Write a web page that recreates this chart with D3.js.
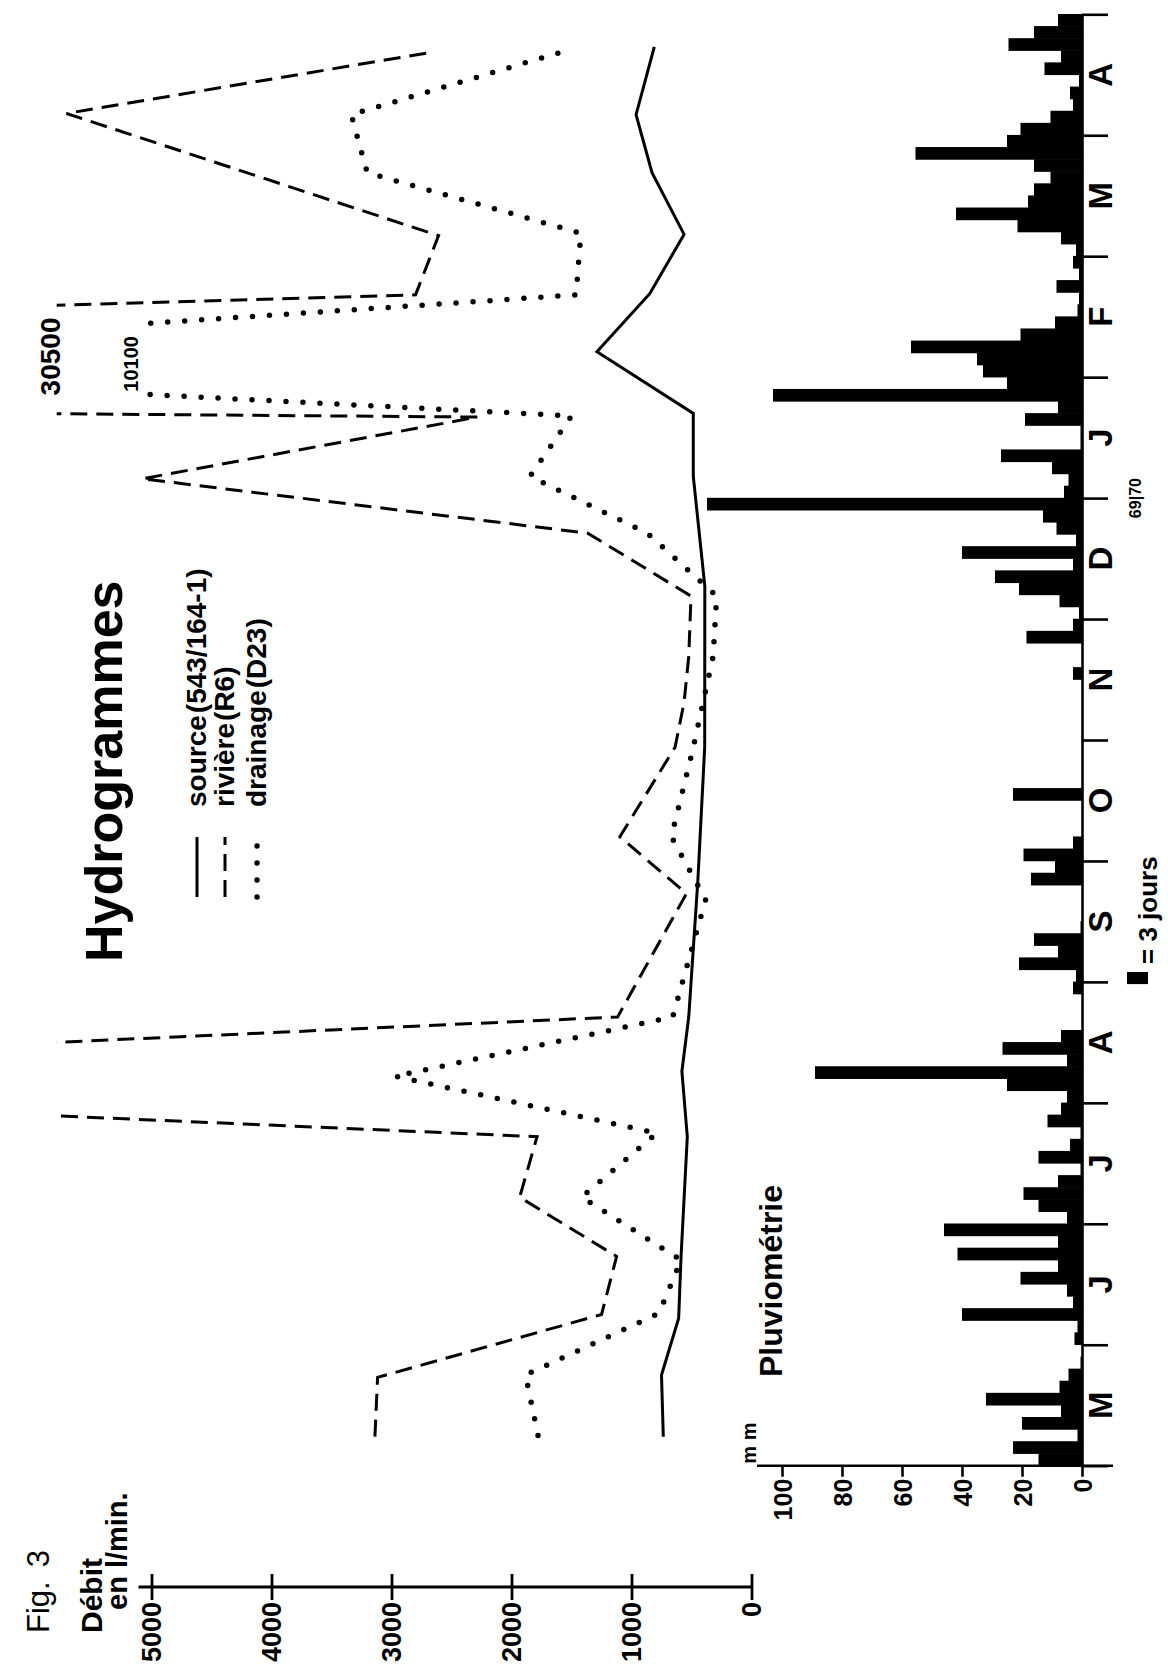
<!DOCTYPE html>
<html>
<head>
<meta charset="utf-8">
<script src="https://cdn.jsdelivr.net/npm/d3@7"></script>
<style>
  html, body { margin: 0; padding: 0; background: #fff; }
  svg { display: block; }
  text { font-family: "Liberation Sans", Arial, Helvetica, sans-serif; fill: #000; }
</style>
</head>
<body>
<svg id="fig" width="1168" height="1673"></svg>
<script>
// ---- Data -------------------------------------------------------------
// Time is counted in months from 1 May (0) to 30 April (12).
const mois = ["M", "J", "J", "A", "S", "O", "N", "D", "J", "F", "M", "A"];

// Rainfall in mm, one value per 3-day period (10 per month), May -> April
const pluie = [
  14.5, 23, 1.5, 20, 7, 32, 7.5, 4.5, 0.5, 0,        // mai
  2.5, 1.5, 40, 3, 5, 20.5, 8, 41.5, 8, 46,          // juin
  5, 14.5, 19.5, 8, 0.5, 14.5, 4, 0.5, 11.5, 7,      // juillet
  5, 25, 89, 5, 26.5, 7, 0, 0, 0, 3,                 // août
  2, 21, 8, 16, 0.5, 0, 0, 0, 17, 9,                 // septembre
  19.5, 3, 0, 0, 0, 23, 0, 0, 0, 0,                  // octobre
  0, 0, 0, 0, 0, 3, 0, 0, 18.5, 3,                   // novembre
  1, 7.5, 21, 29, 3, 40, 2, 8.5, 13, 125,            // décembre
  6, 4.5, 10, 27, 0.5, 0.5, 19, 8, 103, 25,          // janvier
  33, 35, 57, 20.5, 9, 1.5, 1, 8.5, 1, 3,            // février
  2, 7, 21.5, 42, 18, 16, 10.5, 16, 55.5, 25,        // mars
  20.5, 10.5, 3, 4, 1, 12.5, 7, 24.5, 16, 8          // avril
];

// Discharge (l/min): measurement times (months) and values
const sourceT = [0.24, 0.75, 1.22, 1.73, 2.72, 3.26, 3.71, 4.84, 5.94, 7.27, 8.18, 8.70, 9.21, 9.69, 10.18, 10.69, 11.17, 11.73];
const sourceQ = [735, 750, 607, 587, 535, 580, 523, 447, 390, 389, 485, 485, 1288, 848, 562, 829, 962, 810];

const riviereT = [0.24, 0.73, 1.25, 1.73, 2.22, 2.72, 3.19, 3.71, 4.73, 5.20, 5.94, 6.31, 6.69, 7.19, 7.71, 8.16, 8.67, 8.89, 9.68, 10.17, 11.18, 11.68];
const riviereQ = [3138, 3116, 1250, 1124, 1932, 1787, 12700, 1116, 542, 1097, 637, 562, 523, 504, 1365, 5077, 2283, 30500, 2800, 2608, 5708, 2704];

const drainageT = [0.25, 0.75, 1.26, 1.70, 2.22, 2.75, 3.22, 3.71, 4.68, 5.20, 5.93, 6.69, 7.19, 7.71, 8.18, 8.68, 9.11, 9.68, 10.19, 10.69, 11.17, 11.69];
const drainageQ = [1779, 1883, 771, 587, 1415, 789, 2971, 657, 382, 668, 487, 320, 290, 868, 1845, 1499, 10100, 1462, 1422, 3202, 3336, 1576];

const debitTicks = [0, 1000, 2000, 3000, 4000, 5000];
const pluieTicks = [0, 20, 40, 60, 80, 100];

// Off-scale peaks are cut at these discharges and annotated
const riviereCut = 5790, drainageCut = 5120;
const riviereMax = 30500, drainageMax = 10100;

// ---- Scales (figure drawn turned a quarter turn: time runs upward) ----
const svg = d3.select("#fig");
svg.append("rect").attr("width", 1168).attr("height", 1673).attr("fill", "#fff");

const tScale = d3.scaleLinear().domain([0, 12]).range([1465.7, 14.3]);
const qScale = d3.scaleLinear().domain([0, 5000]).range([751.5, 151.5]);
const pScale = d3.scaleLinear().domain([0, 100]).range([1082, 782]);

// Text turned to read from bottom to top; (x, y) is a point on the baseline
function vtext(parent, x, y, str, size, weight, anchor) {
  return parent.append("text")
    .attr("transform", `translate(${x},${y}) rotate(-90)`)
    .attr("text-anchor", anchor || "start")
    .attr("font-size", size)
    .attr("font-weight", weight || "bold")
    .text(str);
}

// ---- Rainfall histogram ----------------------------------------------
const gRain = svg.append("g");
gRain.selectAll("rect").data(pluie).join("rect")
  .attr("x", d => pScale(d))
  .attr("width", d => pScale(0) - pScale(d))
  .attr("y", (d, i) => tScale((i + 1) / 10) - 0.3)
  .attr("height", (d, i) => tScale(i / 10) - tScale((i + 1) / 10) + 0.6)
  .attr("fill", "#000");

// Time axis with month boundaries
const timeAxis = d3.axisRight(tScale)
  .tickValues(d3.range(13))
  .tickFormat("")
  .tickSize(26)
  .tickSizeOuter(0);
const gTime = svg.append("g").attr("transform", `translate(${pScale(0)},0)`).call(timeAxis);
gTime.selectAll("path, line").attr("stroke", "#000").attr("stroke-width", 2.6);

mois.forEach((m, i) => {
  vtext(svg, 1112, tScale(i + 0.5), m, 33, "bold", "middle");
});
vtext(svg, 1141, tScale(8), "69|70", 16, "bold", "middle");

// Rainfall value axis
const rainAxis = d3.axisBottom(pScale).tickValues(pluieTicks).tickSize(11).tickSizeOuter(0);
const gRainAx = svg.append("g").attr("transform", `translate(0,${tScale(0)})`).call(rainAxis);
gRainAx.select(".domain").attr("d", `M${pScale(100) - 25},0H${pScale(0) + 31}`);
gRainAx.selectAll("path, line").attr("stroke", "#000").attr("stroke-width", 2.6);
gRainAx.selectAll(".tick text").remove();
gRainAx.selectAll(".tick").append("text")
  .attr("transform", "translate(0,13) rotate(-90)")
  .attr("text-anchor", "end")
  .attr("dominant-baseline", "central")
  .attr("font-size", 25)
  .attr("font-weight", "bold")
  .text(d => d);
vtext(svg, 756, tScale(0) - 2, "m m", 20, "bold", "start");
vtext(svg, 782, 1377, "Pluviométrie", 32, "bold", "start");

// 3-day legend block
const barH = tScale(0) - tScale(0.1);
svg.append("rect").attr("x", 1127).attr("y", 972).attr("width", 21).attr("height", barH).attr("fill", "#000");
vtext(svg, 1157, 964, "= 3 jours", 26, "bold", "start");

// ---- Discharge axis ----------------------------------------------------
const qAxis = d3.axisBottom(qScale).tickValues(debitTicks).tickSize(13).tickSizeOuter(0);
const gQ = svg.append("g").attr("transform", "translate(0,1587)").call(qAxis);
gQ.select(".domain").attr("d", `M${qScale(5000) - 13},0H${qScale(0) + 1}`);
gQ.selectAll(".tick line").attr("y1", -13).attr("y2", 13);
gQ.selectAll("path, line").attr("stroke", "#000").attr("stroke-width", 2.8);
gQ.selectAll(".tick text").remove();
gQ.selectAll(".tick").append("text")
  .attr("transform", "translate(0,15) rotate(-90)")
  .attr("text-anchor", "end")
  .attr("dominant-baseline", "central")
  .attr("font-size", 27)
  .attr("font-weight", "bold")
  .text(d => d);

const fig = vtext(svg, 49, 1633, "Fig.", 31, "normal", "start");
fig.append("tspan").attr("dx", 14).text("3");
vtext(svg, 102, 1633, "Débit", 30, "bold", "start");
vtext(svg, 127, 1610, "en l/min.", 29, "bold", "start");

// ---- Hydrographs -----------------------------------------------------
const defs = svg.append("defs");
defs.append("clipPath").attr("id", "clipRiv").append("rect")
  .attr("x", qScale(riviereCut)).attr("y", 0).attr("width", 1168).attr("height", 1673);
defs.append("clipPath").attr("id", "clipDrain").append("rect")
  .attr("x", qScale(drainageCut)).attr("y", 0).attr("width", 1168).attr("height", 1673);

const line = d3.line().x(d => qScale(d[1])).y(d => tScale(d[0]));
const pts = (T, Q) => T.map((t, i) => [t, Q[i]]);

svg.append("path").datum(pts(sourceT, sourceQ))
  .attr("d", line).attr("fill", "none").attr("stroke", "#000")
  .attr("stroke-width", 3).attr("stroke-linejoin", "miter");

svg.append("path").datum(pts(riviereT, riviereQ))
  .attr("d", line).attr("fill", "none").attr("stroke", "#000")
  .attr("stroke-width", 3).attr("stroke-dasharray", "17,9")
  .attr("clip-path", "url(#clipRiv)");

svg.append("path").datum(pts(drainageT, drainageQ))
  .attr("d", line).attr("fill", "none").attr("stroke", "#000")
  .attr("stroke-width", 5.5).attr("stroke-linecap", "round")
  .attr("stroke-dasharray", "0,17")
  .attr("clip-path", "url(#clipDrain)");

// values of the cut peaks
const iRiv = riviereQ.indexOf(riviereMax);
const iDrain = drainageQ.indexOf(drainageMax);
vtext(svg, 60, tScale(riviereT[iRiv]) - 34, String(riviereMax), 28, "bold", "middle");
vtext(svg, 138, tScale(drainageT[iDrain]), String(drainageMax), 20, "bold", "middle");

// ---- Title and legend ------------------------------------------------
vtext(svg, 122, 962, "Hydrogrammes", 52, "bold", "start");

const legend = [
  { x: 197, label: "source", extra: "(543/164-1)", dash: null, width: 3, cap: "butt" },
  { x: 225, label: "rivière", extra: "(R6)", dash: "17,9", width: 3, cap: "butt" },
  { x: 257, label: "drainage", extra: "(D23)", dash: "0,17", width: 5.5, cap: "round" }
];
legend.forEach(l => {
  svg.append("line")
    .attr("x1", l.x).attr("x2", l.x).attr("y1", 897).attr("y2", 837)
    .attr("stroke", "#000").attr("stroke-width", l.width)
    .attr("stroke-linecap", l.cap)
    .attr("stroke-dasharray", l.dash);
  const t = vtext(svg, l.x + 9, 807, l.label, 28, "bold", "start");
  t.append("tspan").attr("dx", 2).text(l.extra);
});
</script>
</body>
</html>
